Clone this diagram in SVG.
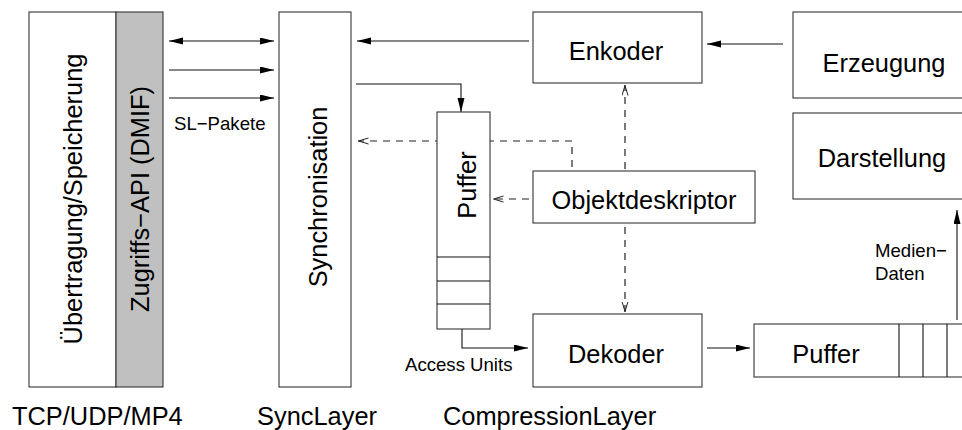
<svg xmlns="http://www.w3.org/2000/svg" width="962" height="430" viewBox="0 0 962 430">
  <style>
    .box { fill: #fff; stroke: #333; stroke-width: 1.1; }
    .gray { fill: #c0c0c0; stroke: #333; stroke-width: 1.1; }
    .line { fill: none; stroke: #111; stroke-width: 1.1; }
    .solid { marker-end: url(#head); }
    .dash { stroke: #222; stroke-width: 1.2; stroke-dasharray: 7 6; marker-end: url(#open); }
    .big { font-family: "Liberation Sans", Arial, sans-serif; font-size: 25.4px; fill: #000; }
    .small { font-family: "Liberation Sans", Arial, sans-serif; font-size: 18.6px; fill: #000; }
    .mid { text-anchor: middle; }
  </style>
  <defs>
    <marker id="head" markerUnits="userSpaceOnUse" markerWidth="14" markerHeight="8" refX="14" refY="3.5" orient="auto-start-reverse">
      <path d="M0,0 L14,3.5 L0,7 z" fill="#000"/>
    </marker>
    <marker id="open" markerUnits="userSpaceOnUse" markerWidth="12" markerHeight="8" refX="10.5" refY="3.5" orient="auto">
      <path d="M0,0.5 L10,3.5 L0,6.5" fill="none" stroke="#222" stroke-width="1"/>
    </marker>
  </defs>

  <!-- connectors -->
  <g id="connectors">
    <line class="line solid" x1="169" y1="41" x2="274" y2="41" marker-start="url(#head)"/>
    <line class="line solid" x1="169" y1="70" x2="274" y2="70"/>
    <line class="line solid" x1="169" y1="98" x2="274" y2="98"/>
    <line class="line solid" x1="529" y1="41" x2="357" y2="41"/>
    <polyline class="line solid" points="356,84 461,84 461,112"/>
    <polyline class="line dash" points="572,167 572,141 358,141"/>
    <line class="line dash" x1="529" y1="199" x2="493" y2="199"/>
    <line class="line dash" x1="625" y1="169" x2="625" y2="85"/>
    <line class="line dash" x1="625" y1="227" x2="625" y2="312"/>
    <line class="line solid" x1="783" y1="44" x2="707" y2="44"/>
    <polyline class="line solid" points="462,329 462,348 528,348"/>
    <line class="line solid" x1="707" y1="348" x2="750" y2="348"/>
    <line class="line solid" x1="957" y1="320" x2="957" y2="210"/>
  </g>

  <!-- transport / storage -->
  <g id="uebertragung">
    <rect class="box" x="29" y="12" width="87" height="375"/>
    <text class="big mid" transform="translate(82,199) rotate(-90)">Übertragung/Speicherung</text>
  </g>
  <g id="dmif">
    <rect class="gray" x="116" y="12" width="47" height="375"/>
    <text class="big mid" transform="translate(149,199) rotate(-90)">Zugriffs−API (DMIF)</text>
  </g>
  <g id="sl-pakete">
    <text class="small" x="174" y="130">SL−Pakete</text>
  </g>

  <!-- sync layer -->
  <g id="synchronisation">
    <rect class="box" x="279" y="12" width="72" height="375"/>
    <text class="big mid" transform="translate(327,197) rotate(-90)">Synchronisation</text>
  </g>

  <!-- decoding buffer -->
  <g id="puffer-au">
    <rect class="box" x="437" y="112" width="53" height="217"/>
    <line class="line" x1="437" y1="257" x2="490" y2="257"/>
    <line class="line" x1="437" y1="281" x2="490" y2="281"/>
    <line class="line" x1="437" y1="304" x2="490" y2="304"/>
    <text class="big mid" transform="translate(476,185) rotate(-90)">Puffer</text>
  </g>
  <g id="access-units">
    <text class="small" x="405" y="371">Access Units</text>
  </g>

  <!-- compression layer -->
  <g id="enkoder">
    <rect class="box" x="533" y="12" width="169" height="71"/>
    <text class="big mid" x="616" y="60">Enkoder</text>
  </g>
  <g id="objektdeskriptor">
    <rect class="box" x="533" y="171" width="222" height="52"/>
    <text class="big mid" x="644" y="209">Objektdeskriptor</text>
  </g>
  <g id="dekoder">
    <rect class="box" x="533" y="314" width="169" height="73"/>
    <text class="big mid" x="616" y="363">Dekoder</text>
  </g>

  <!-- media side -->
  <g id="erzeugung">
    <rect class="box" x="793" y="12" width="190" height="86"/>
    <text class="big mid" x="884" y="72">Erzeugung</text>
  </g>
  <g id="darstellung">
    <rect class="box" x="793" y="113" width="190" height="86"/>
    <text class="big mid" x="882" y="167">Darstellung</text>
  </g>
  <g id="puffer-medien">
    <rect class="box" x="754" y="324" width="230" height="53"/>
    <line class="line" x1="899" y1="324" x2="899" y2="377"/>
    <line class="line" x1="923" y1="324" x2="923" y2="377"/>
    <line class="line" x1="947" y1="324" x2="947" y2="377"/>
    <text class="big mid" x="826" y="363">Puffer</text>
  </g>
  <g id="mediendaten">
    <text class="small" x="875" y="257">Medien−</text>
    <text class="small" x="875" y="280">Daten</text>
  </g>

  <!-- layer captions -->
  <g id="captions">
    <text class="big" x="12" y="425">TCP/UDP/MP4</text>
    <text class="big" x="257" y="425">SyncLayer</text>
    <text class="big" x="443" y="425">CompressionLayer</text>
  </g>
</svg>
